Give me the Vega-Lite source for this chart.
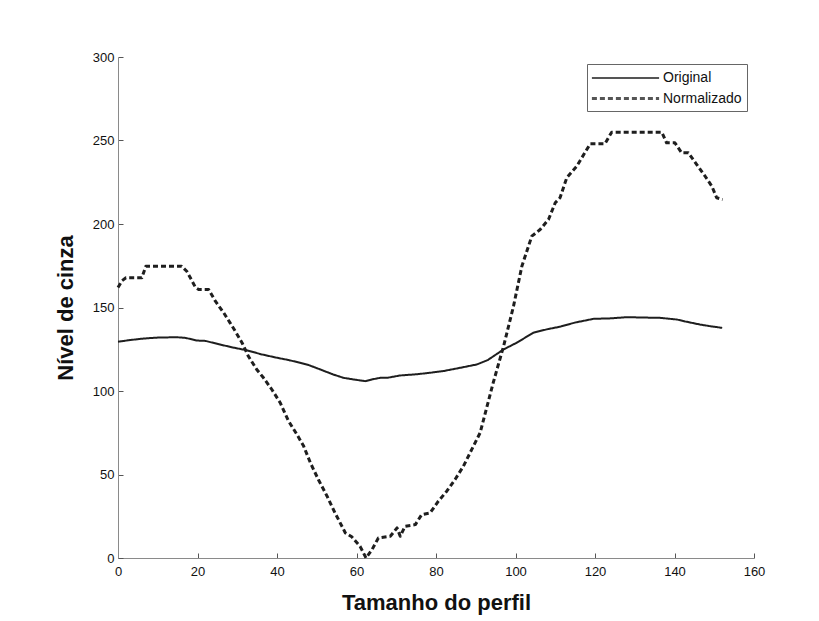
{
  "$schema": "https://vega.github.io/schema/vega-lite/v6.json",
  "width": 636,
  "height": 501,
  "autosize": {"type": "none"},
  "padding": {"left": 118, "top": 57, "right": 65, "bottom": 63},
  "background": "white",
  "config": {
    "view": {"stroke": null},
    "font": "Liberation Sans",
    "axis": {
      "domainColor": "#8a8a8a",
      "tickColor": "#555",
      "grid": false,
      "labelFont": "Liberation Sans",
      "labelFontSize": 13,
      "labelColor": "#111",
      "titleFont": "Liberation Sans",
      "titleFontSize": 22,
      "titleFontWeight": "bold",
      "titleColor": "#111",
      "tickSize": -5
    },
    "legend": {
      "labelFont": "Liberation Sans",
      "labelFontSize": 14,
      "labelColor": "#111"
    }
  },
  "data": {
    "values": [
      {"x": 0, "y": 129.5, "s": "Original"},
      {"x": 3, "y": 130.5, "s": "Original"},
      {"x": 6.4, "y": 131.4, "s": "Original"},
      {"x": 10, "y": 132, "s": "Original"},
      {"x": 14.8, "y": 132.2, "s": "Original"},
      {"x": 17, "y": 131.8, "s": "Original"},
      {"x": 19.9, "y": 130.2, "s": "Original"},
      {"x": 22, "y": 130, "s": "Original"},
      {"x": 25.7, "y": 127.8, "s": "Original"},
      {"x": 29, "y": 126, "s": "Original"},
      {"x": 32.4, "y": 124.4, "s": "Original"},
      {"x": 36, "y": 122, "s": "Original"},
      {"x": 40, "y": 119.9, "s": "Original"},
      {"x": 43, "y": 118.5, "s": "Original"},
      {"x": 45.8, "y": 116.9, "s": "Original"},
      {"x": 48, "y": 115.5, "s": "Original"},
      {"x": 50.9, "y": 112.9, "s": "Original"},
      {"x": 54, "y": 110, "s": "Original"},
      {"x": 56.7, "y": 107.9, "s": "Original"},
      {"x": 59, "y": 107, "s": "Original"},
      {"x": 62.2, "y": 105.9, "s": "Original"},
      {"x": 64, "y": 107, "s": "Original"},
      {"x": 66, "y": 107.9, "s": "Original"},
      {"x": 68, "y": 108, "s": "Original"},
      {"x": 71, "y": 109.3, "s": "Original"},
      {"x": 75, "y": 110, "s": "Original"},
      {"x": 78.5, "y": 110.9, "s": "Original"},
      {"x": 82, "y": 112, "s": "Original"},
      {"x": 86.1, "y": 113.9, "s": "Original"},
      {"x": 90.3, "y": 115.9, "s": "Original"},
      {"x": 93, "y": 118.5, "s": "Original"},
      {"x": 97, "y": 124.9, "s": "Original"},
      {"x": 100.3, "y": 128.9, "s": "Original"},
      {"x": 104.5, "y": 134.9, "s": "Original"},
      {"x": 108, "y": 137, "s": "Original"},
      {"x": 111.2, "y": 138.5, "s": "Original"},
      {"x": 115, "y": 141, "s": "Original"},
      {"x": 119.6, "y": 143.2, "s": "Original"},
      {"x": 124, "y": 143.5, "s": "Original"},
      {"x": 128, "y": 144.2, "s": "Original"},
      {"x": 132, "y": 144, "s": "Original"},
      {"x": 136.4, "y": 143.8, "s": "Original"},
      {"x": 140.6, "y": 142.8, "s": "Original"},
      {"x": 143, "y": 141.5, "s": "Original"},
      {"x": 146.4, "y": 139.8, "s": "Original"},
      {"x": 149, "y": 138.8, "s": "Original"},
      {"x": 152, "y": 137.8, "s": "Original"},
      {"x": 0, "y": 162, "s": "Normalizado"},
      {"x": 1, "y": 166, "s": "Normalizado"},
      {"x": 2, "y": 167.8, "s": "Normalizado"},
      {"x": 6, "y": 167.8, "s": "Normalizado"},
      {"x": 7, "y": 174.7, "s": "Normalizado"},
      {"x": 16, "y": 174.7, "s": "Normalizado"},
      {"x": 17.3, "y": 171.7, "s": "Normalizado"},
      {"x": 18.2, "y": 167.8, "s": "Normalizado"},
      {"x": 19.5, "y": 162, "s": "Normalizado"},
      {"x": 20.3, "y": 160.8, "s": "Normalizado"},
      {"x": 22.8, "y": 160.8, "s": "Normalizado"},
      {"x": 24.5, "y": 153.8, "s": "Normalizado"},
      {"x": 26.6, "y": 146.8, "s": "Normalizado"},
      {"x": 28.2, "y": 140.8, "s": "Normalizado"},
      {"x": 29.5, "y": 135.8, "s": "Normalizado"},
      {"x": 31.2, "y": 128.9, "s": "Normalizado"},
      {"x": 32.8, "y": 120.8, "s": "Normalizado"},
      {"x": 34.9, "y": 112.9, "s": "Normalizado"},
      {"x": 36.6, "y": 107.9, "s": "Normalizado"},
      {"x": 38.7, "y": 100.9, "s": "Normalizado"},
      {"x": 40.8, "y": 93, "s": "Normalizado"},
      {"x": 42.9, "y": 82, "s": "Normalizado"},
      {"x": 45, "y": 74, "s": "Normalizado"},
      {"x": 46.7, "y": 67, "s": "Normalizado"},
      {"x": 48.4, "y": 57, "s": "Normalizado"},
      {"x": 50.4, "y": 47, "s": "Normalizado"},
      {"x": 52.6, "y": 37, "s": "Normalizado"},
      {"x": 54.6, "y": 27, "s": "Normalizado"},
      {"x": 57.2, "y": 15, "s": "Normalizado"},
      {"x": 58.8, "y": 12.7, "s": "Normalizado"},
      {"x": 60.9, "y": 7, "s": "Normalizado"},
      {"x": 62.4, "y": 0, "s": "Normalizado"},
      {"x": 63.9, "y": 5, "s": "Normalizado"},
      {"x": 65.5, "y": 12, "s": "Normalizado"},
      {"x": 68.5, "y": 13, "s": "Normalizado"},
      {"x": 70.2, "y": 18, "s": "Normalizado"},
      {"x": 71, "y": 13, "s": "Normalizado"},
      {"x": 72.2, "y": 19, "s": "Normalizado"},
      {"x": 74.8, "y": 20, "s": "Normalizado"},
      {"x": 76.4, "y": 26, "s": "Normalizado"},
      {"x": 78.5, "y": 27, "s": "Normalizado"},
      {"x": 80.6, "y": 34, "s": "Normalizado"},
      {"x": 82.7, "y": 40, "s": "Normalizado"},
      {"x": 84.8, "y": 47, "s": "Normalizado"},
      {"x": 86.9, "y": 55, "s": "Normalizado"},
      {"x": 89, "y": 65, "s": "Normalizado"},
      {"x": 91.1, "y": 75, "s": "Normalizado"},
      {"x": 94.4, "y": 105, "s": "Normalizado"},
      {"x": 97, "y": 126.8, "s": "Normalizado"},
      {"x": 99.5, "y": 150.8, "s": "Normalizado"},
      {"x": 101.6, "y": 174.7, "s": "Normalizado"},
      {"x": 104.1, "y": 192.7, "s": "Normalizado"},
      {"x": 106.2, "y": 196.7, "s": "Normalizado"},
      {"x": 108.3, "y": 202.7, "s": "Normalizado"},
      {"x": 110, "y": 212.7, "s": "Normalizado"},
      {"x": 111.2, "y": 215.7, "s": "Normalizado"},
      {"x": 112.9, "y": 227.7, "s": "Normalizado"},
      {"x": 115.4, "y": 234.6, "s": "Normalizado"},
      {"x": 118.8, "y": 248, "s": "Normalizado"},
      {"x": 122.5, "y": 248, "s": "Normalizado"},
      {"x": 124.2, "y": 255, "s": "Normalizado"},
      {"x": 136.8, "y": 255, "s": "Normalizado"},
      {"x": 138, "y": 248.6, "s": "Normalizado"},
      {"x": 140.1, "y": 248.6, "s": "Normalizado"},
      {"x": 141.8, "y": 242.6, "s": "Normalizado"},
      {"x": 143.5, "y": 242.6, "s": "Normalizado"},
      {"x": 145.6, "y": 235.6, "s": "Normalizado"},
      {"x": 147.7, "y": 228.6, "s": "Normalizado"},
      {"x": 149.4, "y": 222.6, "s": "Normalizado"},
      {"x": 150.6, "y": 215.7, "s": "Normalizado"},
      {"x": 152.1, "y": 214.7, "s": "Normalizado"}
    ]
  },
  "mark": {"type": "line", "strokeJoin": "round", "strokeCap": "butt", "color": "#1e1e1e"},
  "encoding": {
    "x": {
      "field": "x",
      "type": "quantitative",
      "scale": {"domain": [0, 160], "nice": false, "zero": false},
      "axis": {"values": [0, 20, 40, 60, 80, 100, 120, 140, 160], "title": "Tamanho do perfil", "titlePadding": 14, "labelPadding": 12, "labelFlush": false}
    },
    "y": {
      "field": "y",
      "type": "quantitative",
      "scale": {"domain": [0, 300], "nice": false},
      "axis": {"values": [0, 50, 100, 150, 200, 250, 300], "title": "Nível de cinza", "titlePadding": 15, "labelPadding": 9}
    },
    "strokeDash": {
      "field": "s",
      "type": "nominal",
      "scale": {"domain": ["Original", "Normalizado"], "range": [[1, 0], [5, 3]]},
      "legend": {
        "title": null,
        "orient": "top-right",
        "offset": 7,
        "strokeColor": "#666",
        "padding": 5,
        "symbolType": "M-4.2,0H4.2",
        "symbolSize": 256,
        "symbolOffset": 24,
        "symbolStrokeWidth": 1,
        "symbolStrokeColor": "#555",
        "labelOffset": 28,
        "rowPadding": 4,
        "fillColor": "white",
        "encode": {
          "symbols": {
            "update": {
              "strokeWidth": {"value": 1},
              "stroke": {"value": "#555"}
            }
          }
        }
      }
    },
    "strokeWidth": {
      "field": "s",
      "type": "nominal",
      "scale": {"domain": ["Original", "Normalizado"], "range": [2, 3]},
      "legend": null
    }
  }
}
